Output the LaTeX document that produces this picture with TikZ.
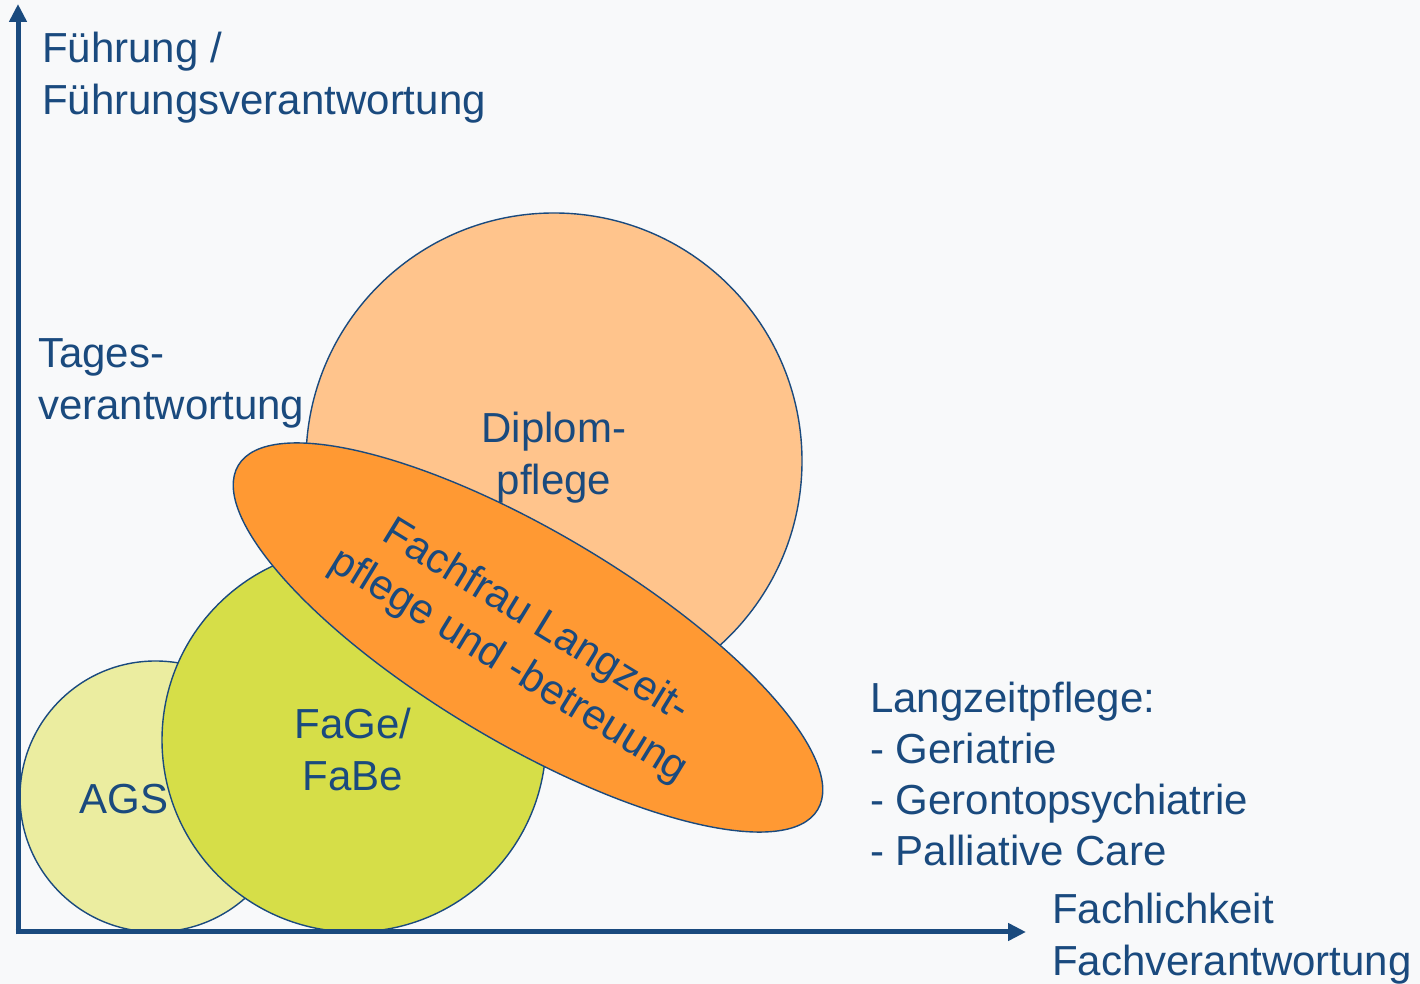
\documentclass[tikz,border=0pt]{standalone}
\usepackage{fontspec}
\setmainfont{Liberation Sans}
\usetikzlibrary{arrows.meta}
\definecolor{navy}{HTML}{1A4A7E}
\definecolor{bg}{HTML}{F8F9FA}
\definecolor{agsfill}{HTML}{EBEDA0}
\definecolor{fagefill}{HTML}{D6DE48}
\definecolor{dipfill}{HTML}{FFC48C}
\definecolor{flfill}{HTML}{FF9933}
\begin{document}
\begin{tikzpicture}[x=1pt,y=1pt,
  lbl/.style={text=navy,font=\fontsize{42}{52}\selectfont,inner sep=0pt},
  blob/.style={draw=navy,line width=1.4pt},
  axis/.style={draw=navy,line width=5pt,-{Triangle[length=18pt,width=17pt]}}]
\fill[bg] (0,0) rectangle (1420,984);
\useasboundingbox (0,0) rectangle (1420,984);
% shapes
\draw[blob,fill=dipfill] (554,523) circle[radius=248];
\draw[blob,fill=agsfill] (155.5,187.5) circle[radius=135.5];
\draw[blob,fill=fagefill] (354,244) circle[radius=192];
\draw[blob,fill=flfill] (528,346.5) ellipse[x radius=337,y radius=105.6,rotate=-30.7];
% axes
\coordinate (o) at (18,52);
\coordinate (ytip) at (18,980);
\coordinate (xtip) at (1026,52);
\draw[axis] ([yshift=-2.5pt]o) -- (ytip);
\draw[axis] ([xshift=-2.5pt]o) -- (xtip);
% labels (base anchor = baseline of last line)
\node[lbl,anchor=base west,align=left] (fuehrung) at (42,869) {Führung /\\Führungsverantwortung};
\node[lbl,anchor=base west,align=left] (tages) at (38,564) {Tages-\\verantwortung};
\node[lbl,anchor=base,align=center] (dipl) at (554,489) {Diplom-\\pflege};
\node[lbl,anchor=base,align=center] (fage) at (353,193) {FaGe/\\FaBe};
\node[lbl,anchor=base] (ags) at (124,170) {AGS};
\node[lbl,align=center,rotate=-31.5] (fl) at (522,340) {Fachfrau Langzeit-\\pflege und -betreuung};
\node[lbl,anchor=base west,align=left,font=\fontsize{42}{51}\selectfont] (lzp) at (870,118) {Langzeitpflege:\\- Geriatrie\\- Gerontopsychiatrie\\- Palliative Care};
\node[lbl,anchor=base west,align=left] (fach) at (1052,8) {Fachlichkeit\\Fachverantwortung};
\end{tikzpicture}
\end{document}
